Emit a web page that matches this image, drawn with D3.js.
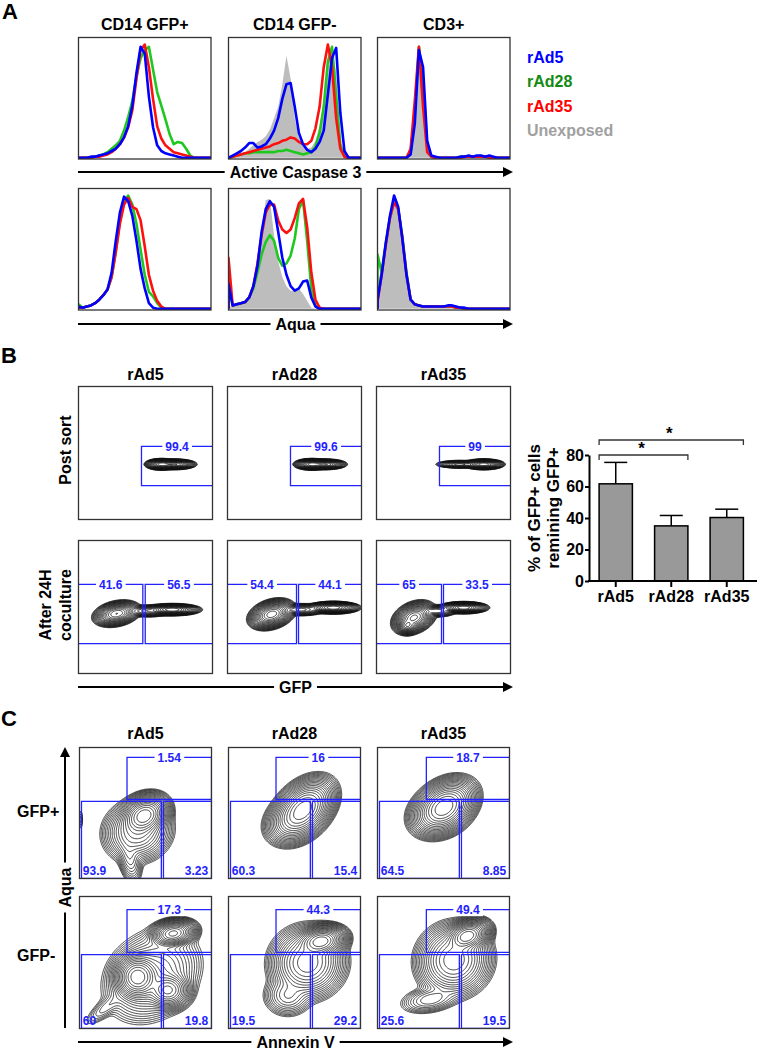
<!DOCTYPE html>
<html>
<head>
<meta charset="utf-8">
<script src="https://cdn.jsdelivr.net/npm/d3@7"></script>
<style>
  body { margin: 0; background: #fff; }
  svg { display: block; font-family: "Liberation Sans", Arial, sans-serif; font-weight: bold; }
</style>
</head>
<body>
<svg id="fig" width="757" height="1050"></svg>
<script>
// ---------- Panel A : histograms (33 bins across each plot, % of max)
const casPosAd5  = [0,0,0,1,1,2,3,4,6,8,12,18,28,46,75,98,92,54,27,11,6,4,3,2,1,0,0,0,0,0,0,0,0];
const casPosAd28 = [0,0,0,0,1,2,3,5,8,11,15,24,36,50,72,88,95,98,78,58,46,34,21,12,14,13,8,2,0,0,0,0,0];
const casPosAd35 = [0,0,0,0,1,1,2,3,5,8,12,18,27,42,70,95,100,80,52,28,17,11,8,5,4,3,2,1,0,0,0,0,0];

const casNegUnexp = [0,1,2,3,5,8,11,14,16,19,25,35,45,65,90,70,35,18,10,8,9,15,28,50,80,96,75,15,0,0,0,0,0];
const casNegAd5   = [0,2,4,6,9,13,13,9,10,12,17,24,35,52,65,66,45,22,12,7,5,8,14,24,56,88,97,40,6,0,0,0,0];
const casNegAd28  = [0,1,2,3,4,4,5,5,5,5,5,5,6,6,7,6,5,4,3,4,5,10,22,45,85,98,55,12,1,0,0,0,0];
const casNegAd35  = [0,1,2,3,4,5,6,7,8,9,10,12,13,15,16,18,17,14,12,12,15,26,45,80,100,80,35,8,1,0,0,0,0];

const cd3CasUnexp = [0,0,0,0,0,0,0,0,6,42,92,55,8,1,0,0,0,0,0,0,0,0,0,0,0,0,0,0,0,0,0,0,0];
const cd3CasAd5   = [0,0,0,0,0,0,0,0,3,30,95,80,15,2,1,0,0,0,0,0,1,1,2,1,2,2,1,2,1,0,0,0,0];
const cd3CasAd28  = [0,0,0,0,0,0,0,0,5,40,98,65,10,1,0,0,0,0,0,0,1,1,1,1,1,1,1,1,0,0,0,0,0];
const cd3CasAd35  = [0,0,0,0,0,0,0,0,8,50,98,45,5,1,0,0,0,0,0,0,0,1,1,1,1,1,1,0,0,0,0,0,0];

const aquaPosAd5  = [2,1,2,3,5,8,12,17,32,60,85,99,95,82,60,35,18,5,1,0,0,0,0,0,0,0,0,0,0,0,0,0,0];
const aquaPosAd28 = [4,1,2,3,5,8,12,17,28,50,78,95,100,92,75,52,30,15,11,5,1,0,0,0,0,0,0,0,0,0,0,0,0];
const aquaPosAd35 = [1,1,2,3,5,8,12,17,28,50,75,92,98,90,88,78,55,30,16,7,2,0,0,0,0,0,0,0,0,0,0,0,0];

const aquaNegUnexp = [2,2,3,4,6,10,20,38,70,96,97,65,42,28,20,16,16,18,13,7,1,0,0,0,0,0,0,0,0,0,0,0,0];
const aquaNegAd5   = [22,3,4,5,6,10,20,38,68,88,95,90,68,45,30,20,16,18,24,25,10,2,0,0,0,0,0,0,0,0,0,0,0];
const aquaNegAd28  = [20,3,4,5,6,10,18,32,48,59,65,60,45,38,40,47,62,88,96,60,18,3,0,0,0,0,0,0,0,0,0,0,0];
const aquaNegAd35  = [45,3,4,5,6,10,20,40,65,85,92,92,78,70,67,70,80,93,97,72,32,8,1,0,0,0,0,0,0,0,0,0,0];

const cd3AquaUnexp = [24,35,55,78,95,85,58,25,6,3,2,2,2,2,2,2,2,2,2,1,1,1,0,0,0,0,0,0,0,0,0,0,0];
const cd3AquaAd5   = [8,30,58,82,100,90,62,30,8,4,3,2,2,2,2,2,2,3,3,2,1,1,0,0,0,0,0,0,0,0,0,0,0];
const cd3AquaAd28  = [48,32,58,80,96,88,64,32,8,4,3,2,2,2,2,2,2,2,2,1,1,0,0,0,0,0,0,0,0,0,0,0,0];
const cd3AquaAd35  = [6,30,56,80,94,88,62,30,8,4,3,2,2,2,2,2,2,2,2,1,1,0,0,0,0,0,0,0,0,0,0,0,0];

const histTitles = ["CD14 GFP+", "CD14 GFP-", "CD3+"];
const legendNames = ["rAd5", "rAd28", "rAd35", "Unexposed"];

// ---------- Panel B / C : contour populations [cx, cy, sdX, sdY, angle, weight] in % of plot
const blobsPostAd5  = [[62,41.5,3.5,1.2,0,1],[72,41.5,4.5,1.1,0,0.8]];
const blobsPostAd28 = [[63,41.5,3.8,1.2,0,1],[73,41.5,4.5,1.1,0,0.8]];
const blobsPostAd35 = [[80,41.5,4.3,1.1,0,1],[62,41.5,5.5,0.9,0,0.15]];
const blobsCoAd5  = [[28.5,45,5.2,2.7,12,0.7],[70,48,6,1.25,0,1],[52,47,6,1.5,0,0.08]];
const blobsCoAd28 = [[33,44.5,5.2,3.1,18,0.9],[79,49.5,5.6,1.3,0,1],[55,48,6,1.5,0,0.1]];
const blobsCoAd35 = [[28,42,5,3.3,25,0.8],[23,36,2.5,2,0,0.6],[65,49.5,5.2,1.25,0,1],[45,47,5,1.5,0,0.08]];

const blobsGfpPosAd5  = [[49,48,6.5,5,30,1],[44,36,9,8,20,0.15],[38,16,3.5,8,10,0.025],[1,45,0.8,4,0,0.003]];
const blobsGfpPosAd28 = [[57,53,9,6,45,1],[50,45,8,6,30,0.2]];
const blobsGfpPosAd35 = [[51,55,8.5,6,35,1],[47,50,8,6,20,0.2]];
const blobsGfpNegAd5  = [[44,39,6,6,45,1],[71,72,6,3.5,10,0.6],[67,29,6,5,0,0.4],[55,40,14,11,40,0.08],[20,16,9,3,40,0.006]];
const blobsGfpNegAd28 = [[70,66,6.5,4,10,1],[60,50,9.5,9,20,0.35],[45,25,7,6,0,0.03]];
const blobsGfpNegAd35 = [[68,70,6,4,20,1],[58,52,9.5,9,35,0.35],[40,22,9,4,10,0.02]];

const vectorNames = ["rAd5", "rAd28", "rAd35"];
const postSortPct = ["99.4", "99.6", "99"];
const cocultureNegPct = ["41.6", "54.4", "65"];
const coculturePosPct = ["56.5", "44.1", "33.5"];
const gfpPosQ = [["1.54","93.9","3.23"], ["16","60.3","15.4"], ["18.7","64.5","8.85"]];
const gfpNegQ = [["17.3","60","19.8"], ["44.3","19.5","29.2"], ["49.4","25.6","19.5"]];

// ---------- Panel B bar chart
const barCats = ["rAd5", "rAd28", "rAd35"];
const barMeans = [61.7, 35, 40.3];
const barErrs = [13.6, 6.6, 5.3];
const barTicks = [0, 20, 40, 60, 80];
const sigPairs = [["rAd5", "rAd28"], ["rAd5", "rAd35"]];

// ----------------------------------------------------------------
const svg = d3.select("#fig");
const defs = svg.append("defs");
const BLUE = "#0000ff", GREEN = "#1fc81f", RED = "#ff1010", GRAYFILL = "#bdbdbd";
const GATE = "#2323ff";
let clipCount = 0;

function clipFor(x, y, w, h) {
  const id = "clip" + (clipCount++);
  defs.append("clipPath").attr("id", id)
    .append("rect").attr("x", x).attr("y", y).attr("width", w).attr("height", h);
  return "url(#" + id + ")";
}

function frame(x, y, w, h) {
  svg.append("rect").attr("x", x).attr("y", y).attr("width", w).attr("height", h)
    .attr("fill", "none").attr("stroke", "#333").attr("stroke-width", 1.3);
}

function label(x, y, txt, size, opts = {}) {
  const t = svg.append("text").attr("x", x).attr("y", y)
    .attr("font-size", size).attr("fill", opts.fill || "#000")
    .attr("text-anchor", opts.anchor || "start").text(txt);
  if (opts.rotate) t.attr("transform", `rotate(-90,${x},${y})`);
  return t;
}

function hArrow(y, x1, x2, txt) {
  const cx = (x1 + x2) / 2;
  const t = label(cx, y + 5.5, txt, 16, { anchor: "middle" });
  const w = t.node().getComputedTextLength();
  svg.append("line").attr("x1", x1).attr("x2", cx - w / 2 - 5).attr("y1", y).attr("y2", y)
    .attr("stroke", "#000").attr("stroke-width", 2);
  svg.append("line").attr("x1", cx + w / 2 + 5).attr("x2", x2 - 6).attr("y1", y).attr("y2", y)
    .attr("stroke", "#000").attr("stroke-width", 2);
  svg.append("path").attr("d", `M${x2},${y} L${x2 - 10},${y - 5} L${x2 - 10},${y + 5} Z`).attr("fill", "#000");
}

function vArrow(x, y1, y2, txt) {
  const cy = (y1 + y2) / 2;
  const t = label(x + 5.5, cy, txt, 16, { anchor: "middle", rotate: true });
  const w = t.node().getComputedTextLength();
  svg.append("line").attr("x1", x).attr("x2", x).attr("y1", y1).attr("y2", cy + w / 2 + 5)
    .attr("stroke", "#000").attr("stroke-width", 2);
  svg.append("line").attr("x1", x).attr("x2", x).attr("y1", cy - w / 2 - 5).attr("y2", y2 + 6)
    .attr("stroke", "#000").attr("stroke-width", 2);
  svg.append("path").attr("d", `M${x},${y2} L${x - 5},${y2 + 10} L${x + 5},${y2 + 10} Z`).attr("fill", "#000");
}

// ---------- histograms
function drawHist(x0, y0, w, h, series) {
  const xs = d3.scaleLinear().domain([0, 32]).range([x0, x0 + w]);
  const ys = d3.scaleLinear().domain([0, 100]).range([y0 + h - 1.2, y0 + 7]);
  const g = svg.append("g").attr("clip-path", clipFor(x0, y0, w, h));
  series.forEach(s => {
    const pts = [[0, 0]].concat(s.values.map((v, i) => [i, v]));
    if (s.fill) {
      g.append("path").datum(s.values)
        .attr("d", d3.area().x((d, i) => xs(i)).y0(ys(0)).y1(d => ys(d)))
        .attr("fill", s.fill);
    } else {
      g.append("path").datum(pts)
        .attr("d", d3.line().x(d => xs(d[0])).y(d => ys(d[1])))
        .attr("fill", "none").attr("stroke", s.color).attr("stroke-width", 2.6)
        .attr("stroke-linejoin", "round");
    }
  });
  frame(x0, y0, w, h);
}

const hX = [78.5, 228.5, 377.5], hW = 132.5, hH = 121.5, hY = [37.5, 188.5];
const histRows = [
  [[casPosAd28, casPosAd35, casPosAd5, null], [casNegAd28, casNegAd35, casNegAd5, casNegUnexp], [cd3CasAd28, cd3CasAd35, cd3CasAd5, cd3CasUnexp]],
  [[aquaPosAd28, aquaPosAd35, aquaPosAd5, null], [aquaNegAd28, aquaNegAd35, aquaNegAd5, aquaNegUnexp], [cd3AquaAd28, cd3AquaAd35, cd3AquaAd5, cd3AquaUnexp]]
];
histRows.forEach((row, r) => {
  row.forEach((p, c) => {
    const series = [];
    if (p[3]) series.push({ values: p[3], fill: GRAYFILL });
    series.push({ values: p[0], color: GREEN }, { values: p[1], color: RED }, { values: p[2], color: BLUE });
    drawHist(hX[c], hY[r], hW, hH, series);
  });
});
histTitles.forEach((t, i) => label(hX[i] + hW / 2, 30, t, 16, { anchor: "middle" }));
label(2, 19, "A", 22);
const legendColors = ["#0000ff", "#138a13", "#ff0000", "#a0a0a0"];
legendNames.forEach((n, i) => label(527, [63, 87, 112, 136][i], n, 16, { fill: legendColors[i] }));
hArrow(172, 78, 513, "Active Caspase 3");
hArrow(324, 78, 513, "Aqua");

// ---------- contours + gates
function drawContours(x0, y0, w, h, blobs, g) {
  const n = 160;
  const vals = new Float64Array(n * n);
  for (let j = 0; j < n; j++) {
    for (let i = 0; i < n; i++) {
      const px = (i + 0.5) * 100 / n, py = 100 - (j + 0.5) * 100 / n;
      let s = 0;
      blobs.forEach(([cx, cy, sx, sy, ang, wt]) => {
        const a = ang * Math.PI / 180, dx = px - cx, dy = py - cy;
        const u = dx * Math.cos(a) + dy * Math.sin(a);
        const v = -dx * Math.sin(a) + dy * Math.cos(a);
        s += wt * Math.exp(-(u * u / (2 * sx * sx) + v * v / (2 * sy * sy)));
      });
      vals[j * n + i] = s;
    }
  }
  const mx = d3.max(vals);
  const levels = d3.range(1, 21).map(k => mx * Math.pow(0.7, k));
  const cs = d3.contours().size([n, n]).thresholds(levels)(vals);
  g.append("g").attr("transform", `translate(${x0},${y0}) scale(${w / n},${h / n})`)
    .selectAll("path").data(cs).join("path")
    .attr("d", d3.geoPath())
    .attr("fill", "none").attr("stroke", "#111").attr("stroke-width", 0.8)
    .attr("vector-effect", "non-scaling-stroke");
}

function gateText(g, x, y, txt, anchor) {
  const t = g.append("text").attr("x", x).attr("y", y).attr("font-size", 12)
    .attr("fill", GATE).attr("text-anchor", anchor).text(txt);
  const b = t.node().getBBox();
  g.insert("rect", () => t.node()).attr("x", b.x - 3).attr("y", b.y + 1)
    .attr("width", b.width + 6).attr("height", b.height - 2).attr("fill", "#fff");
}

function gatePath(g, pts, closed) {
  g.append("path").attr("d", d3.line()(pts) + (closed ? "Z" : ""))
    .attr("fill", "none").attr("stroke", GATE).attr("stroke-width", 1.3);
}

function plotScales(x0, y0, w, h) {
  return [d3.scaleLinear().domain([0, 100]).range([x0, x0 + w]),
          d3.scaleLinear().domain([0, 100]).range([y0 + h, y0])];
}

// Panel B flow plots
const bX = [78.5, 227.5, 376.5], bW = 134, bH = 133, bY = [386.5, 540.5];
const postBlobs = [blobsPostAd5, blobsPostAd28, blobsPostAd35];
const coBlobs = [blobsCoAd5, blobsCoAd28, blobsCoAd35];
const coSplit = [[48, 49.8], [51.5, 53], [48.5, 50]];
vectorNames.forEach((nm, i) => {
  // post sort
  let [gx, gy] = plotScales(bX[i], bY[0], bW, bH);
  let g = svg.append("g").attr("clip-path", clipFor(bX[i], bY[0], bW, bH));
  drawContours(bX[i], bY[0], bW, bH, postBlobs[i], g);
  gatePath(g, [[gx(101), gy(55)], [gx(47), gy(55)], [gx(47), gy(25.5)], [gx(101), gy(25.5)]]);
  gateText(g, gx(73.5), gy(55) + 4.5, postSortPct[i], "middle");
  frame(bX[i], bY[0], bW, bH);
  // coculture
  [gx, gy] = plotScales(bX[i], bY[1], bW, bH);
  g = svg.append("g").attr("clip-path", clipFor(bX[i], bY[1], bW, bH));
  drawContours(bX[i], bY[1], bW, bH, coBlobs[i], g);
  const [s1, s2] = coSplit[i];
  gatePath(g, [[gx(-1), gy(67)], [gx(s1), gy(67)], [gx(s1), gy(22.5)], [gx(-1), gy(22.5)]]);
  gatePath(g, [[gx(101), gy(67)], [gx(s2), gy(67)], [gx(s2), gy(22.5)], [gx(101), gy(22.5)]]);
  gateText(g, gx(s1 / 2), gy(67) + 4.5, cocultureNegPct[i], "middle");
  gateText(g, gx((s2 + 100) / 2), gy(67) + 4.5, coculturePosPct[i], "middle");
  frame(bX[i], bY[1], bW, bH);
  label(bX[i] + bW / 2, 380, nm, 16, { anchor: "middle" });
});
label(1, 363, "B", 22);
label(71, 450, "Post sort", 16, { anchor: "middle", rotate: true });
label(51, 605, "After 24H", 16, { anchor: "middle", rotate: true });
label(71, 605, "coculture", 16, { anchor: "middle", rotate: true });
hArrow(687, 78, 513, "GFP");

// Panel B bar chart
const yBar = d3.scaleLinear().domain([0, 80]).range([581, 455]);
const xBar = d3.scaleBand().domain(barCats).range([588, 754.5]).paddingInner(0.4).paddingOuter(0.2);
const barG = svg.append("g");
barCats.forEach((c, i) => {
  const cx = xBar(c) + xBar.bandwidth() / 2;
  barG.append("line").attr("x1", cx).attr("x2", cx)
    .attr("y1", yBar(barMeans[i])).attr("y2", yBar(barMeans[i] + barErrs[i]))
    .attr("stroke", "#000").attr("stroke-width", 1.5);
  barG.append("line").attr("x1", cx - 11.5).attr("x2", cx + 11.5)
    .attr("y1", yBar(barMeans[i] + barErrs[i])).attr("y2", yBar(barMeans[i] + barErrs[i]))
    .attr("stroke", "#000").attr("stroke-width", 1.5);
});
barG.selectAll("rect.bar").data(barCats).join("rect").attr("class", "bar")
  .attr("x", d => xBar(d)).attr("width", xBar.bandwidth())
  .attr("y", (d, i) => yBar(barMeans[i])).attr("height", (d, i) => yBar(0) - yBar(barMeans[i]))
  .attr("fill", "#999").attr("stroke", "#000").attr("stroke-width", 1.5);

const yAx = svg.append("g").attr("transform", "translate(589,0)")
  .call(d3.axisLeft(yBar).tickValues(barTicks).tickSize(4).tickSizeOuter(0).tickPadding(1));
yAx.select(".domain").attr("stroke-width", 2);
yAx.selectAll(".tick line").attr("stroke-width", 2);
yAx.selectAll("text").attr("font-size", 16).attr("font-family", null).attr("font-weight", "bold");

const xAx = svg.append("g").attr("transform", "translate(0,581)")
  .call(d3.axisBottom(xBar).tickSize(6).tickPadding(4));
xAx.select(".domain").remove();
xAx.append("line").attr("x1", 588).attr("x2", 757).attr("stroke", "#000").attr("stroke-width", 2);
xAx.selectAll(".tick line").attr("stroke-width", 2);
xAx.selectAll("text").attr("font-size", 16).attr("font-family", null).attr("font-weight", "bold");

sigPairs.forEach(([a, b], k) => {
  const yv = yBar(80) - k * 15;
  const xa = xBar(a), xb = xBar(b) + xBar.bandwidth();
  svg.append("path").attr("d", `M${xa},${yv + 5}V${yv}H${xb}V${yv + 5}`)
    .attr("fill", "none").attr("stroke", "#333").attr("stroke-width", 1.3);
  label((xa + xb) / 2 - 2, yv - 1, "*", 17, { anchor: "middle" });
});
label(540, 508, "% of GFP+ cells", 17, { anchor: "middle", rotate: true });
label(559, 508, "remining GFP+", 17, { anchor: "middle", rotate: true });

// Panel C
const cX = [79.5, 228.5, 377.5], cW = 132, cY = [747.5, 896.5], cH = [131, 132];
const cBlobs = [[blobsGfpPosAd5, blobsGfpPosAd28, blobsGfpPosAd35], [blobsGfpNegAd5, blobsGfpNegAd28, blobsGfpNegAd35]];
const cQ = [gfpPosQ, gfpNegQ];
const upLeft = [36, 36, 37];
const cGateY = [[92.4, 60.3, 58.8], [90, 57.6, 56]];
cY.forEach((y0, r) => {
  vectorNames.forEach((nm, i) => {
    const [gx, gy] = plotScales(cX[i], y0, cW, cH[r]);
    const g = svg.append("g").attr("clip-path", clipFor(cX[i], y0, cW, cH[r]));
    drawContours(cX[i], y0, cW, cH[r], cBlobs[r][i], g);
    const [top, upBot, lowTop] = cGateY[r];
    gatePath(g, [[gx(upLeft[i]), gy(top)], [gx(100), gy(top)], [gx(100), gy(upBot)], [gx(upLeft[i]), gy(upBot)]], true);
    gatePath(g, [[gx(1.5), gy(lowTop)], [gx(62), gy(lowTop)], [gx(62), gy(0)], [gx(1.5), gy(0)]], true);
    gatePath(g, [[gx(63.6), gy(lowTop)], [gx(100), gy(lowTop)], [gx(100), gy(0)], [gx(63.6), gy(0)]], true);
    const q = cQ[r][i];
    gateText(g, gx((upLeft[i] + 100) / 2), gy(top) + 4.5, q[0], "middle");
    g.append("text").attr("x", gx(2.5)).attr("y", gy(0) - 4).attr("font-size", 12)
      .attr("fill", GATE).text(q[1]);
    g.append("text").attr("x", gx(97.5)).attr("y", gy(0) - 4).attr("font-size", 12)
      .attr("fill", GATE).attr("text-anchor", "end").text(q[2]);
    frame(cX[i], y0, cW, cH[r]);
    if (r === 0) label(cX[i] + cW / 2, 739, nm, 16, { anchor: "middle" });
  });
});
label(1, 726, "C", 22);
label(17, 817, "GFP+", 16);
label(17, 961, "GFP-", 16);
vArrow(65, 1028, 747, "Aqua");
hArrow(1042, 78, 513, "Annexin V");
</script>
</body>
</html>
